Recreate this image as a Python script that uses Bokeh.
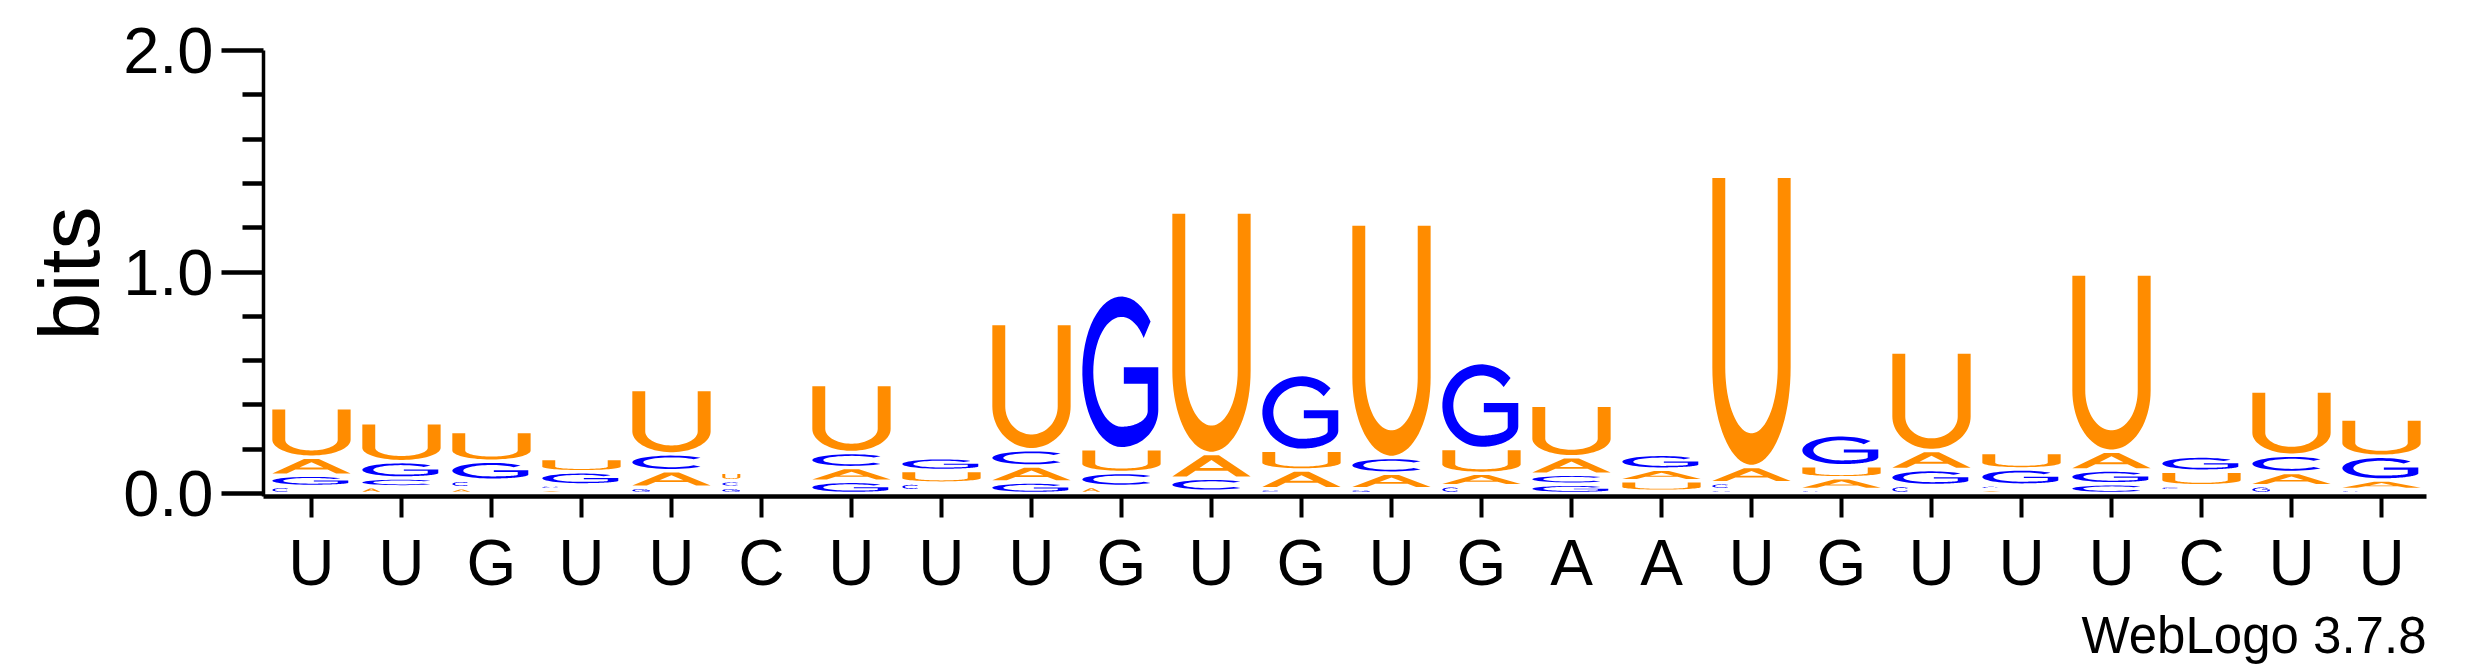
import numpy as np
from bokeh.plotting import figure
from bokeh.models import FixedTicker, PrintfTickFormatter, Title, ColumnDataSource
from bokeh.embed import file_html
from bokeh.resources import INLINE

# ---------------- data ----------------
positions = list(range(1, 25))
seq_labels = ["U", "U", "G", "U", "U", "C", "U", "U", "U", "G", "U", "G",
              "U", "G", "A", "A", "U", "G", "U", "U", "U", "C", "U", "U"]
# information content (bits) per letter per position
bits_A = [0.081, 0.030, 0.026, 0.018, 0.075, 0.000, 0.062, 0.013, 0.072, 0.032, 0.112, 0.084,
          0.070, 0.056, 0.079, 0.052, 0.073, 0.053, 0.086, 0.018, 0.085, 0.013, 0.060, 0.043]
bits_C = [0.032, 0.040, 0.034, 0.021, 0.076, 0.030, 0.068, 0.034, 0.074, 0.063, 0.059, 0.022,
          0.071, 0.035, 0.045, 0.010, 0.031, 0.018, 0.036, 0.020, 0.044, 0.022, 0.078, 0.018]
bits_G = [0.051, 0.074, 0.086, 0.059, 0.028, 0.028, 0.055, 0.058, 0.052, 0.695, 0.010, 0.342,
          0.022, 0.388, 0.042, 0.067, 0.018, 0.140, 0.072, 0.073, 0.062, 0.068, 0.035, 0.107]
bits_U = [0.223, 0.175, 0.134, 0.060, 0.291, 0.038, 0.307, 0.057, 0.569, 0.107, 1.090, 0.089,
          1.054, 0.112, 0.233, 0.048, 1.310, 0.054, 0.445, 0.074, 0.800, 0.066, 0.290, 0.168]
letter_colors = {"A": "#FF8C00", "C": "#0000FF", "G": "#0000FF", "U": "#FF8C00"}

y_major = [0.0, 1.0, 2.0]
y_minor = [0.2, 0.4, 0.6, 0.8, 1.2, 1.4, 1.6, 1.8]

# ---------------- glyph outlines (unit box) ----------------
def arc(cx, cy, rx, ry, a0, a1, n=40):
    t = np.radians(np.linspace(a0, a1, n))
    return list(cx + rx * np.cos(t)), list(cy + ry * np.sin(t))

def glyph_U():
    s, c, t = 0.165, 0.34, 0.11
    xs, ys = [0.0], [1.0]
    ax, ay = arc(0.5, c, 0.5, c, 180, 360)
    xs += ax; ys += ay
    xs += [1.0, 1.0 - s]; ys += [1.0, 1.0]
    ax, ay = arc(0.5, c, 0.5 - s, c - t, 360, 180)
    xs += ax; ys += ay
    xs += [s]; ys += [1.0]
    return [(xs, ys)]

def glyph_A():
    outer = ([0.0, 0.405, 0.595, 1.0, 0.815, 0.705, 0.295, 0.185],
             [0.0, 1.0, 1.0, 0.0, 0.0, 0.27, 0.27, 0.0])
    hole = ([0.347, 0.653, 0.5], [0.40, 0.40, 0.778])
    return [outer, hole]

def glyph_C():
    ox, oy = arc(0.5, 0.5, 0.5, 0.5, 42, 318)
    ix, iy = arc(0.5, 0.5, 0.36, 0.365, 322, 38)
    return [(ox + ix, oy + iy)]

def glyph_G():
    xs, ys = arc(0.5, 0.5, 0.5, 0.5, 42, 270)
    bx, by = arc(0.5, 0.25, 0.47, 0.25, 270, 360)
    xs += bx; ys += by
    xs += [0.97, 0.53, 0.53, 0.835, 0.835]
    ys += [0.53, 0.53, 0.42, 0.42, 0.24]
    cx_, cy_ = arc(0.5, 0.24, 0.335, 0.105, 360, 270)
    xs += cx_; ys += cy_
    ix, iy = arc(0.5, 0.5, 0.36, 0.365, 270, 38)
    xs += ix; ys += iy
    return [(xs, ys)]

GLYPHS = {"A": glyph_A(), "C": glyph_C(), "G": glyph_G(), "U": glyph_U()}

# ---------------- build stacks ----------------
px_per_bit = 223.5
gap = 3.5 / px_per_bit
full_w = 0.87
tiny_w = 0.2

xs_all, ys_all, col_all = [], [], []
table = {"A": bits_A, "C": bits_C, "G": bits_G, "U": bits_U}
for i, pos in enumerate(positions):
    items = sorted([(table[L][i], k, L) for k, L in enumerate("ACGU")])
    y0 = 0.0
    for h, _, L in items:
        gh = h - gap
        if gh > 0.0015:
            w = full_w if gh * px_per_bit >= 5 else tiny_w
            left = pos - full_w / 2
            bottom = y0 + gap / 2
            rings_x, rings_y = [], []
            for (ux, uy) in GLYPHS[L]:
                rings_x.append([left + u * w for u in ux])
                rings_y.append([bottom + v * gh for v in uy])
            xs_all.append([rings_x])
            ys_all.append([rings_y])
            col_all.append(letter_colors[L])
        y0 += h

src = ColumnDataSource(dict(xs=xs_all, ys=ys_all, color=col_all))

# ---------------- figure ----------------
FONT = "Liberation Sans"
p = figure(width=2467, height=667, x_range=(0.467, 24.5), y_range=(-0.0134, 2.0),
           output_backend="svg", toolbar_location=None,
           min_border_left=263, min_border_right=41, min_border_top=50, min_border_bottom=167)
p.grid.visible = False
p.outline_line_color = None
p.background_fill_color = "white"
p.border_fill_color = "white"

p.multi_polygons(xs="xs", ys="ys", fill_color="color", line_color=None, source=src)

# x axis
xa = p.xaxis[0]
xa.ticker = FixedTicker(ticks=positions)
xa.major_label_overrides = {pos: lab for pos, lab in zip(positions, seq_labels)}
xa.major_tick_out = 21
xa.major_tick_in = 0
xa.minor_tick_out = 0
xa.minor_tick_in = 0
xa.axis_line_width = 4.5
xa.major_tick_line_width = 4
xa.major_label_text_font = FONT
xa.major_label_text_font_size = "64px"
xa.major_label_text_color = "black"
xa.major_label_standoff = 9

# y axis
ya = p.yaxis[0]
ya.ticker = FixedTicker(ticks=y_major, minor_ticks=y_minor)
ya.formatter = PrintfTickFormatter(format="%.1f")
ya.major_tick_out = 42
ya.major_tick_in = 0
ya.minor_tick_out = 21
ya.minor_tick_in = 0
ya.axis_line_width = 3.5
ya.major_tick_line_width = 4.5
ya.minor_tick_line_width = 4.5
ya.major_label_text_font = FONT
ya.major_label_text_font_size = "65px"
ya.major_label_text_color = "black"
ya.major_label_standoff = 8
ya.axis_label = "bits"
ya.axis_label_text_font = FONT
ya.axis_label_text_font_size = "86px"
ya.axis_label_text_font_style = "normal"
ya.axis_label_text_color = "black"
ya.axis_label_standoff = 3

p.add_layout(Title(text="WebLogo 3.7.8", align="right", text_font=FONT,
                   text_font_size="51px", text_font_style="normal",
                   text_color="black", standoff=7), "below")

open("out.html", "w").write(file_html(p, INLINE))
